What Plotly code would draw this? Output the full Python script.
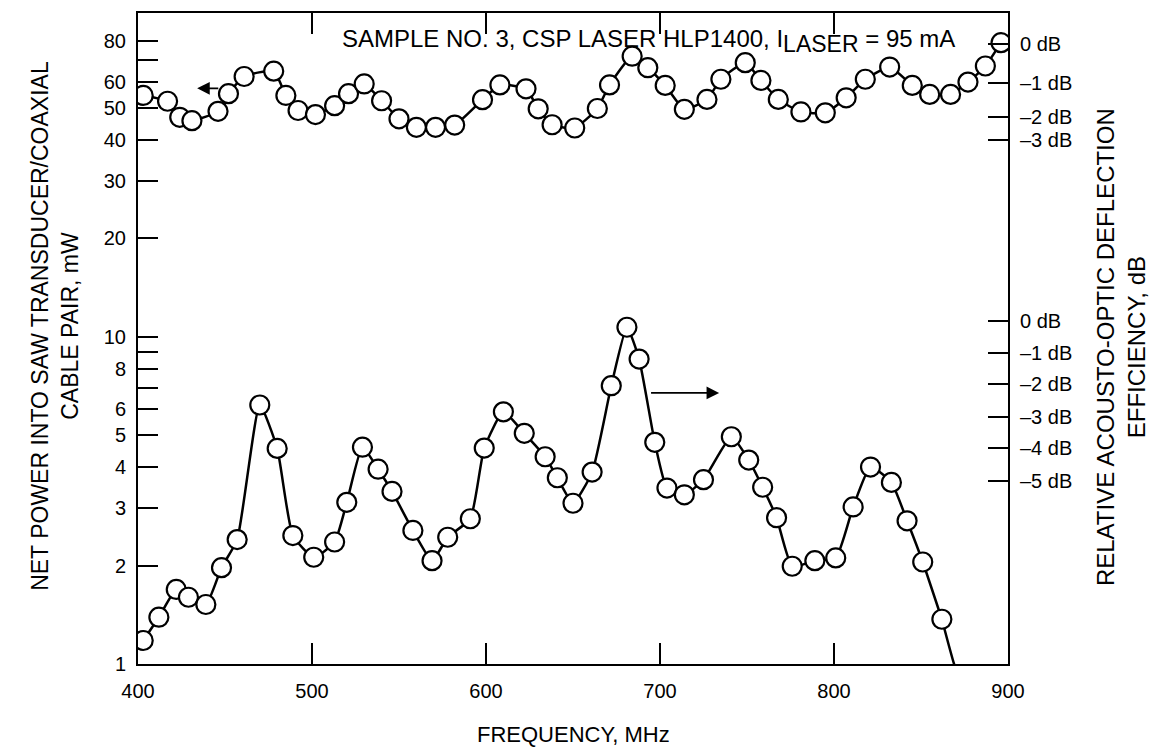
import numpy as np
import plotly.graph_objects as go

# ---------------- data ----------------
# upper curve: net power into SAW transducer (mW), left axis
freq_power = [403, 417, 424, 431, 446, 452, 461, 478, 485, 492, 502, 513, 521, 530, 540,
              550, 560, 571, 582, 598, 608, 623, 630, 638, 651, 664, 671, 684, 693, 703,
              714, 727, 735, 749, 758, 768, 781, 795, 807, 818, 832, 845, 855, 867, 877,
              887, 896]
power_mw = [54.7, 52.5, 46.9, 45.8, 48.9, 55.4, 62.5, 64.9, 54.7, 49.2, 47.8, 50.9, 55.4, 59.3, 52.7,
            46.4, 43.7, 43.7, 44.4, 53.1, 58.9, 57.3, 49.8, 44.5, 43.5, 49.9, 58.9, 72.1, 66.5, 58.7,
            49.6, 53.2, 61.3, 68.9, 60.8, 53.2, 48.7, 48.4, 53.8, 61.3, 66.8, 58.7, 55.1, 55.1, 60.1,
            67.3, 79.3]

# lower curve: relative acousto-optic deflection efficiency (plotted on mW log scale)
freq_eff = [403, 412, 422, 429, 439, 448, 457, 470, 480, 489, 501, 513, 520, 529, 538,
            546, 558, 569, 578, 591, 599, 610, 622, 634, 641, 650, 661, 672, 681, 688,
            697, 704, 714, 725, 741, 751, 759, 767, 776, 789, 801, 811, 821, 833, 842,
            851, 862]
eff_level = [1.18, 1.39, 1.69, 1.60, 1.52, 1.97, 2.40, 6.19, 4.56, 2.47, 2.12, 2.36, 3.12, 4.60, 3.94,
             3.37, 2.56, 2.07, 2.44, 2.78, 4.57, 5.90, 5.07, 4.30, 3.71, 3.10, 3.86, 7.09, 10.7, 8.55,
             4.76, 3.45, 3.29, 3.66, 4.95, 4.20, 3.47, 2.80, 1.99, 2.07, 2.11, 3.02, 4.00, 3.59, 2.74,
             2.05, 1.37]
# continuation of the lower curve below the axis (line only)
tail_freq = [862, 869, 874]
tail_level = [1.37, 1.0, 0.85]

# left axis ticks (mW)
left_tick_vals = [1, 2, 3, 4, 5, 6, 8, 10, 20, 30, 40, 50, 60, 80]
left_tick_text = ["1", "2", "3", "4", "5", "6", "8", "10", "20", "30", "40", "50", "60", "80"]
left_minor_vals = [7, 9, 70]

# right axis dB ticks (positions expressed on the mW scale)
db_upper_pos = [78.5, 59.5, 47.0, 40.0]
db_upper_text = ["0 dB", "–1 dB", "–2 dB", "–3 dB"]
db_lower_pos = [11.2, 8.9, 7.2, 5.7, 4.57, 3.63]
db_lower_text = ["0 dB", "–1 dB", "–2 dB", "–3 dB", "–4 dB", "–5 dB"]

x_ticks = [400, 500, 600, 700, 800, 900]

# arrows: (tail freq, head freq, level)
arrow_left = (447, 434, 57.5)
arrow_right = (694, 734, 6.74)

# ---------------- figure ----------------
FONT = "Liberation Sans, Arial, Helvetica, sans-serif"

fig = go.Figure()

line_style = dict(color="black", width=2.5, shape="spline", smoothing=0.5)
marker_style = dict(symbol="circle", size=19, color="white", line=dict(color="black", width=2.2))

fig.add_trace(go.Scatter(x=freq_power, y=power_mw, mode="lines+markers",
                         line=line_style, marker=marker_style, hoverinfo="skip"))
fig.add_trace(go.Scatter(x=tail_freq, y=tail_level, mode="lines",
                         line=line_style, hoverinfo="skip"))
fig.add_trace(go.Scatter(x=freq_eff, y=eff_level, mode="lines+markers",
                         line=line_style, marker=marker_style, hoverinfo="skip"))
# invisible anchor trace for the right-hand dB axis
fig.add_trace(go.Scatter(x=[x_ticks[0]], y=[left_tick_vals[0]], yaxis="y2", mode="markers",
                         marker=dict(opacity=0), hoverinfo="skip"))

y_range = [0, 1.99]

fig.update_layout(
    width=1167, height=751,
    margin=dict(l=138, r=159, t=13, b=87),
    paper_bgcolor="white", plot_bgcolor="white",
    showlegend=False,
    font=dict(family=FONT, size=20, color="black"),
    xaxis=dict(range=[400, 900], tickmode="array", tickvals=x_ticks,
               ticks="inside", ticklen=21, tickwidth=2, tickcolor="black",
               showline=True, linewidth=2, linecolor="black", mirror="ticks",
               showgrid=False, zeroline=False, ticklabelstandoff=8,
               tickfont=dict(family=FONT, size=20)),
    yaxis=dict(type="log", range=y_range, tickmode="array",
               tickvals=left_tick_vals, ticktext=left_tick_text,
               ticks="inside", ticklen=20, tickwidth=2, tickcolor="black",
               minor=dict(tickmode="array", tickvals=left_minor_vals, ticks="inside",
                          ticklen=20, tickwidth=2, tickcolor="black", showgrid=False),
               showline=True, linewidth=2, linecolor="black", mirror=True,
               showgrid=False, zeroline=False, ticklabelstandoff=6,
               tickfont=dict(family=FONT, size=20)),
    yaxis2=dict(type="log", range=y_range, overlaying="y", side="right",
                tickmode="array", tickvals=db_upper_pos + db_lower_pos,
                ticktext=db_upper_text + db_lower_text,
                ticks="inside", ticklen=20, tickwidth=2, tickcolor="black",
                showline=True, linewidth=2, linecolor="black",
                showgrid=False, zeroline=False, ticklabelstandoff=6,
                tickfont=dict(family=FONT, size=20)),
)

annotations = [
    dict(text="SAMPLE NO. 3, CSP LASER HLP1400, I<sub><span style='font-size:23px'>LASER</span></sub> = 95 mA",
         xref="paper", yref="paper", x=0.232, y=0.985, xanchor="left", yanchor="top",
         showarrow=False, font=dict(family=FONT, size=24)),
    dict(text="NET POWER INTO SAW TRANSDUCER/COAXIAL<br>CABLE PAIR, mW",
         xref="paper", yref="paper", x=-0.095, y=0.52, xanchor="center", yanchor="middle",
         textangle=-90, showarrow=False, font=dict(family=FONT, size=23)),
    dict(text="RELATIVE ACOUSTO-OPTIC DEFLECTION<br>EFFICIENCY, dB",
         xref="paper", yref="paper", x=1.13, y=0.487, xanchor="center", yanchor="middle",
         textangle=-90, showarrow=False, font=dict(family=FONT, size=24)),
    dict(text="FREQUENCY, MHz", xref="paper", yref="paper", x=0.5, y=-0.108,
         xanchor="center", yanchor="middle", showarrow=False,
         font=dict(family=FONT, size=22)),
]
for tail, head, lvl in (arrow_left, arrow_right):
    annotations.append(dict(
        x=head, y=np.log10(lvl), ax=tail, ay=np.log10(lvl),
        xref="x", yref="y", axref="x", ayref="y", text="",
        showarrow=True, arrowhead=2, arrowsize=1.4, arrowwidth=1.8, arrowcolor="black"))
fig.update_layout(annotations=annotations)

fig.write_html("out.html")
